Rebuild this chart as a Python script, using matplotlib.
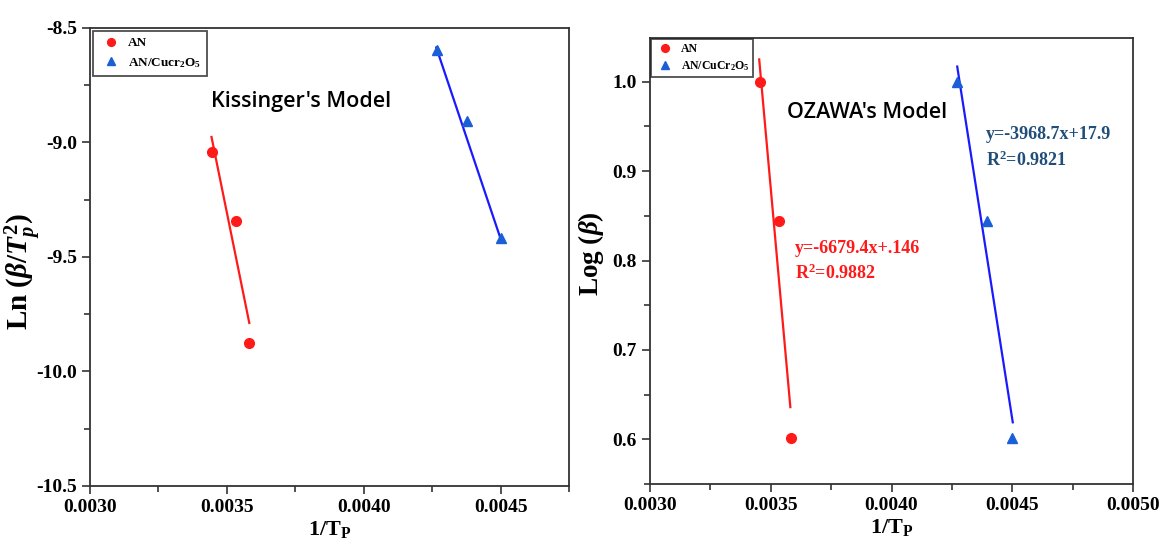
import matplotlib
matplotlib.use("Agg")
import matplotlib.pyplot as plt
from matplotlib.ticker import MultipleLocator, FormatStrFormatter

# ---- data ----
kis_an_x = [0.003444, 0.003532, 0.003582]
kis_an_y = [-9.04, -9.345, -9.875]
kis_cu_x = [0.004269, 0.004378, 0.004500]
kis_cu_y = [-8.596, -8.906, -9.417]
kis_an_fit_x = [0.003444, 0.003582]
kis_an_fit_y = [-8.976, -9.788]
kis_cu_fit_x = [0.004265, 0.004500]
kis_cu_fit_y = [-8.585, -9.42]

oz_an_x = [0.003456, 0.003535, 0.003585]
oz_an_y = [1.0, 0.844, 0.601]
oz_cu_x = [0.004272, 0.004396, 0.004498]
oz_cu_y = [1.0, 0.844, 0.601]
oz_an_fit_x = [0.003452, 0.003581]
oz_an_fit_y = [1.025, 0.636]
oz_cu_fit_x = [0.004272, 0.004502]
oz_cu_fit_y = [1.017, 0.619]

serif = "Liberation Serif"
plt.rcParams["mathtext.fontset"] = "custom"
plt.rcParams["mathtext.rm"] = "Liberation Serif:bold"
plt.rcParams["mathtext.bf"] = "Liberation Serif:bold"
plt.rcParams["mathtext.it"] = "Liberation Serif:italic:bold"

RED = "#ff1a1a"
BLUE_M = "#1a5fd6"
BLUE_L = "#1a1aff"

fig = plt.figure(figsize=(11.61, 5.5), dpi=100)
ax1 = fig.add_axes([0.0775, 0.1164, 0.4126, 0.8327])
ax2 = fig.add_axes([0.5599, 0.12, 0.416, 0.811])

def style(ax):
    for s in ax.spines.values():
        s.set_linewidth(1.3)
        s.set_color("#333333")
    ax.tick_params(which="both", direction="out", top=False, right=False, width=1.2, color="#333333")
    ax.tick_params(which="major", length=6, labelsize=14)
    ax.tick_params(which="minor", length=4)
    for lab in ax.get_xticklabels() + ax.get_yticklabels():
        lab.set_fontfamily(serif)
        lab.set_fontweight("bold")

# Left: Kissinger
ax1.plot(kis_an_fit_x, kis_an_fit_y, color=RED, lw=1.6, zorder=2)
ax1.plot(kis_cu_fit_x, kis_cu_fit_y, color=BLUE_L, lw=1.6, zorder=2)
ax1.plot(kis_an_x, kis_an_y, "o", color=RED, ms=7, label="AN", zorder=3)
ax1.plot(kis_cu_x, kis_cu_y, "^", color=BLUE_M, ms=7, label="AN/Cucr$_2$O$_5$", zorder=3)
ax1.set_xlim(0.0030, 0.00475)
ax1.set_ylim(-10.5, -8.5)
ax1.xaxis.set_major_locator(MultipleLocator(0.0005))
ax1.xaxis.set_minor_locator(MultipleLocator(0.00025))
ax1.yaxis.set_major_locator(MultipleLocator(0.5))
ax1.yaxis.set_minor_locator(MultipleLocator(0.25))
ax1.xaxis.set_major_formatter(FormatStrFormatter("%.4f"))
ax1.yaxis.set_major_formatter(FormatStrFormatter("%.1f"))
style(ax1)
ax1.set_xlabel("1/T$_\\mathregular{P}$", fontfamily=serif, fontweight="bold", fontsize=16, labelpad=2)
ax1.set_ylabel("Ln ($\\beta$/$T_p^2$)", fontfamily=serif, fontweight="bold", fontsize=21)
ax1.yaxis.set_label_coords(-0.096, 0.467)
ax1.text(0.44, 0.84, "Kissinger's Model", transform=ax1.transAxes, fontfamily="Open Sans",
         fontsize=15.5, fontweight="semibold", ha="center", va="center")
leg1 = ax1.legend(loc="upper left", prop={"family": serif, "weight": "bold", "size": 9.5},
                  frameon=True, fancybox=False, borderpad=0.45, handletextpad=0.4,
                  borderaxespad=0.25, markerscale=0.8, handlelength=1.8)
leg1.get_frame().set_edgecolor("#222222")
leg1.get_frame().set_linewidth(1.3)

# Right: Ozawa
ax2.plot(oz_an_fit_x, oz_an_fit_y, color=RED, lw=1.6, zorder=2)
ax2.plot(oz_cu_fit_x, oz_cu_fit_y, color=BLUE_L, lw=1.6, zorder=2)
ax2.plot(oz_an_x, oz_an_y, "o", color=RED, ms=7, label="AN", zorder=3)
ax2.plot(oz_cu_x, oz_cu_y, "^", color=BLUE_M, ms=7, label="AN/CuCr$_2$O$_5$", zorder=3)
ax2.set_xlim(0.0030, 0.0050)
ax2.set_ylim(0.55, 1.049)
ax2.xaxis.set_major_locator(MultipleLocator(0.0005))
ax2.xaxis.set_minor_locator(MultipleLocator(0.00025))
ax2.yaxis.set_major_locator(MultipleLocator(0.1))
ax2.yaxis.set_minor_locator(MultipleLocator(0.05))
ax2.xaxis.set_major_formatter(FormatStrFormatter("%.4f"))
ax2.yaxis.set_major_formatter(FormatStrFormatter("%.1f"))
style(ax2)
ax2.set_xlabel("1/T$_\\mathregular{P}$", fontfamily=serif, fontweight="bold", fontsize=16, labelpad=2)
ax2.set_ylabel("Log ($\\beta$)", fontfamily=serif, fontweight="bold", fontsize=19.5)
ax2.yaxis.set_label_coords(-0.091, 0.516)
ax2.text(0.449, 0.832, "OZAWA's Model", transform=ax2.transAxes, fontfamily="Open Sans",
         fontsize=15.5, fontweight="semibold", ha="center", va="center")
eq_kw = dict(fontfamily=serif, fontweight="bold", fontsize=13, ha="left", va="center",
             transform=ax2.transAxes)
ax2.text(0.300, 0.527, "y=-6679.4x+.146", color=RED, **eq_kw)
ax2.text(0.300, 0.473, "R$^\\mathregular{2}$=0.9882", color=RED, **eq_kw)
ax2.text(0.696, 0.783, "y=-3968.7x+17.9", color="#1f4e79", **eq_kw)
ax2.text(0.696, 0.726, "R$^\\mathregular{2}$=0.9821", color="#1f4e79", **eq_kw)
leg2 = ax2.legend(loc="upper left", prop={"family": serif, "weight": "bold", "size": 8.5},
                  frameon=True, fancybox=False, borderpad=0.35, handletextpad=0.4,
                  borderaxespad=0.05, markerscale=0.8, handlelength=1.8, labelspacing=0.35)
leg2.get_frame().set_edgecolor("#222222")
leg2.get_frame().set_linewidth(1.3)

fig.savefig("out.png", dpi=100)
